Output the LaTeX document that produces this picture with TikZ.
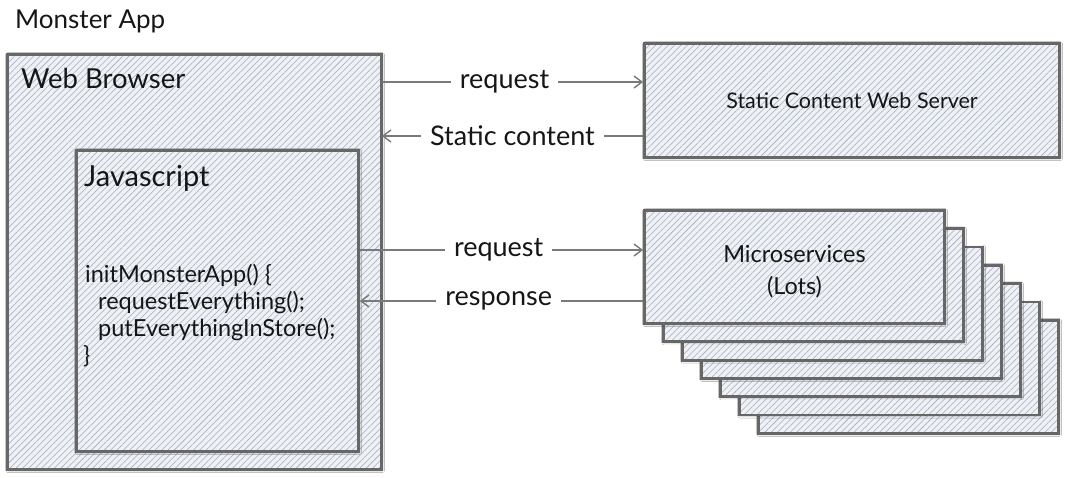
\documentclass[tikz,border=0pt]{standalone}
\usepackage{fontspec}
\setmainfont{Lato}
\usetikzlibrary{patterns.meta,arrows.meta,shadows.blur}
\definecolor{hatchbg}{HTML}{EEF1F6}
\definecolor{hatchln}{HTML}{A3ABB8}
\definecolor{edge}{HTML}{676767}
\definecolor{ink}{HTML}{161616}
\definecolor{wire}{HTML}{7A7A7A}
\begin{document}
\begin{tikzpicture}[x=1pt,y=-1pt,
  box/.style={draw=edge, line width=2.8pt, rectangle, inner sep=0pt,
    blur shadow={shadow xshift=0.6pt, shadow yshift=-0.6pt, shadow blur radius=2.5pt, shadow opacity=45},
    preaction={fill=hatchbg},
    pattern={Lines[angle=45,distance=4.5pt,line width=0.55pt]}, pattern color=hatchln},
  title/.style={font=\fontsize{27.5}{30}\selectfont, text=ink, inner sep=0pt, anchor=base west},
  code/.style={font=\fontsize{23.5}{27}\selectfont, text=ink, inner sep=0pt, anchor=base west},
  inbox/.style={font=\fontsize{21.5}{32}\selectfont, text=ink, align=center},
  wire/.style={draw=wire, line width=1.6pt, -{Straight Barb[length=8pt,width=12pt,line width=1.4pt]}},
  lbl/.style={fill=white, inner xsep=9pt, inner ysep=2pt, font=\fontsize{27}{30}\selectfont, text=ink}]
\useasboundingbox[fill=white] (0,0) rectangle (1070,478);

\node[title, font=\fontsize{26}{30}\selectfont] (apptitle) at (15,29) {Monster App};

\node[box, minimum width=374pt, minimum height=415pt] (browser) at (194.5,262) {};
\node[title] (browsertitle) at (21,89) {Web Browser};

\node[box, minimum width=282pt, minimum height=301pt] (js) at (217.5,301) {};
\node[title, font=\fontsize{29}{30}\selectfont] (jstitle) at (84,187) {Javascript};
\node[code] (c1) at (85,282) {initMonsterApp() \{};
\node[code] (c2) at (98,309) {requestEverything();};
\node[code] (c3) at (98,336) {putEverythingInStore();};
\node[code] (c4) at (83,363) {\}};

\node[box, minimum width=415pt, minimum height=114pt] (server) at (852,100.5) {};
\node[inbox] (servertext) at (server.center) {Static Content Web Server};

\foreach \k in {6,5,...,1}{
  \node[box, minimum width=300pt, minimum height=113pt] (ms\k) at ({794.5+19*\k},{267+18.3*\k}) {};
}
\node[box, minimum width=300pt, minimum height=113pt] (ms0) at (794.5,267) {};
\node[inbox, font=\fontsize{23.5}{32}\selectfont] (mstext) at (794.5,272) {Microservices\\(Lots)};

\coordinate (ya) at (0,82);
\coordinate (yb) at (0,136);
\coordinate (yc) at (0,250);
\coordinate (yd) at (0,301);

\draw[wire] (browser.east |- ya) -- node[lbl, pos=0.47] {request} (server.west |- ya);
\draw[wire] (server.west |- yb) -- node[lbl] {Static content} (browser.east |- yb);
\draw[wire] (js.east |- yc) -- node[lbl, pos=0.49] {request} (ms0.west |- yc);
\draw[wire] (ms0.west |- yd) -- node[lbl, pos=0.51] {response} (js.east |- yd);
\end{tikzpicture}
\end{document}
